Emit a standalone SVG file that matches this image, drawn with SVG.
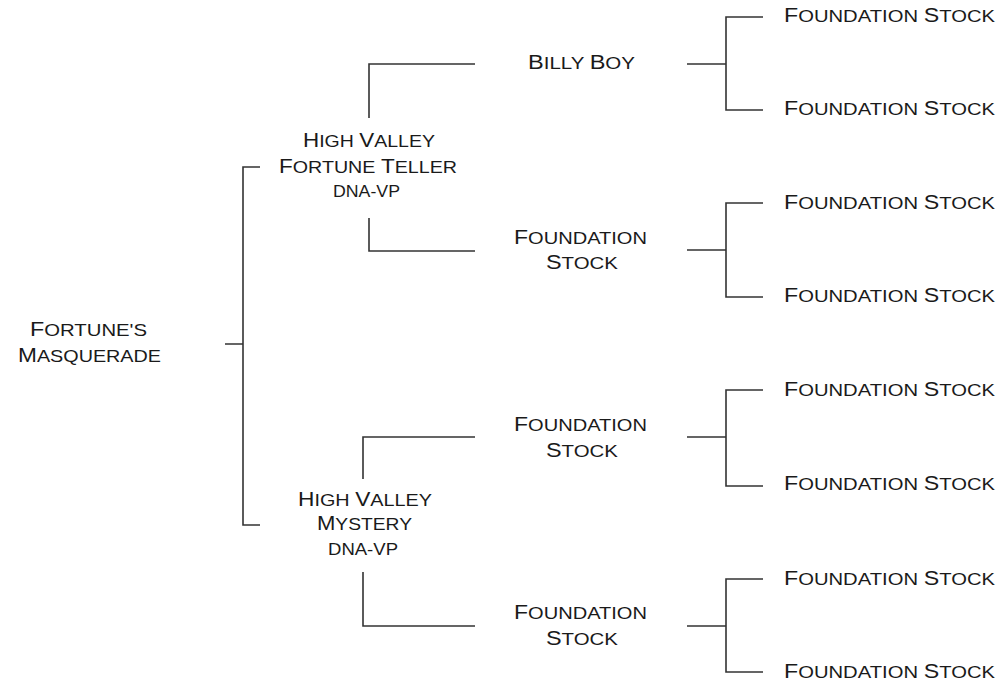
<svg xmlns="http://www.w3.org/2000/svg" width="1002" height="686" viewBox="0 0 1002 686">
<style>
text{font-family:"Liberation Sans",Arial,sans-serif;font-size:17px;text-transform:uppercase;fill:#1a1a1a;}
.b{font-size:19.5px;}
.c path{fill:none;stroke:#333;stroke-width:1.6;}
</style>
<rect width="1002" height="686" fill="#fff"/>
<g class="c" id="connectors">
<path d="M225,344H243M260,167H243V525H260"/>
<path d="M475,64H369V118M369,218V251H475"/>
<path d="M475,437H363V479M363,572V626H475"/>
<path d="M687,64H726M763,17H726V110H763"/>
<path d="M687,250H726M763,203H726V297H763"/>
<path d="M687,437H726M763,390H726V486H763"/>
<path d="M687,626H726M763,579H726V672H763"/>
</g>
<g id="root"><text x="30" y="336" textLength="117" lengthAdjust="spacingAndGlyphs"><tspan class="b">F</tspan>ortune's</text><text x="18" y="362" textLength="143" lengthAdjust="spacingAndGlyphs"><tspan class="b">M</tspan>asquerade</text></g>
<g id="sire"><text x="303" y="147" textLength="132" lengthAdjust="spacingAndGlyphs"><tspan class="b">H</tspan>igh <tspan class="b">V</tspan>alley</text><text x="279" y="173" textLength="178" lengthAdjust="spacingAndGlyphs"><tspan class="b">F</tspan>ortune <tspan class="b">T</tspan>eller</text><text x="333" y="197" textLength="67" lengthAdjust="spacingAndGlyphs">DNA-VP</text></g>
<g id="dam"><text x="298" y="506" textLength="134" lengthAdjust="spacingAndGlyphs"><tspan class="b">H</tspan>igh <tspan class="b">V</tspan>alley</text><text x="317" y="530" textLength="95" lengthAdjust="spacingAndGlyphs"><tspan class="b">M</tspan>ystery</text><text x="328" y="555" textLength="70" lengthAdjust="spacingAndGlyphs">DNA-VP</text></g>
<g id="g2a"><text x="528" y="69" textLength="107" lengthAdjust="spacingAndGlyphs"><tspan class="b">B</tspan>illy <tspan class="b">B</tspan>oy</text></g>
<g id="g2b"><text x="514" y="244" textLength="133" lengthAdjust="spacingAndGlyphs"><tspan class="b">F</tspan>oundation</text><text x="546" y="269" textLength="72" lengthAdjust="spacingAndGlyphs"><tspan class="b">S</tspan>tock</text></g>
<g id="g2c"><text x="514" y="431" textLength="133" lengthAdjust="spacingAndGlyphs"><tspan class="b">F</tspan>oundation</text><text x="546" y="457" textLength="72" lengthAdjust="spacingAndGlyphs"><tspan class="b">S</tspan>tock</text></g>
<g id="g2d"><text x="514" y="619" textLength="133" lengthAdjust="spacingAndGlyphs"><tspan class="b">F</tspan>oundation</text><text x="546" y="645" textLength="72" lengthAdjust="spacingAndGlyphs"><tspan class="b">S</tspan>tock</text></g>
<g id="g3a"><text x="784" y="22" textLength="211" lengthAdjust="spacingAndGlyphs"><tspan class="b">F</tspan>oundation <tspan class="b">S</tspan>tock</text></g>
<g id="g3b"><text x="784" y="115" textLength="211" lengthAdjust="spacingAndGlyphs"><tspan class="b">F</tspan>oundation <tspan class="b">S</tspan>tock</text></g>
<g id="g3c"><text x="784" y="209" textLength="211" lengthAdjust="spacingAndGlyphs"><tspan class="b">F</tspan>oundation <tspan class="b">S</tspan>tock</text></g>
<g id="g3d"><text x="784" y="302" textLength="211" lengthAdjust="spacingAndGlyphs"><tspan class="b">F</tspan>oundation <tspan class="b">S</tspan>tock</text></g>
<g id="g3e"><text x="784" y="396" textLength="211" lengthAdjust="spacingAndGlyphs"><tspan class="b">F</tspan>oundation <tspan class="b">S</tspan>tock</text></g>
<g id="g3f"><text x="784" y="490" textLength="211" lengthAdjust="spacingAndGlyphs"><tspan class="b">F</tspan>oundation <tspan class="b">S</tspan>tock</text></g>
<g id="g3g"><text x="784" y="585" textLength="211" lengthAdjust="spacingAndGlyphs"><tspan class="b">F</tspan>oundation <tspan class="b">S</tspan>tock</text></g>
<g id="g3h"><text x="784" y="678" textLength="211" lengthAdjust="spacingAndGlyphs"><tspan class="b">F</tspan>oundation <tspan class="b">S</tspan>tock</text></g>
</svg>
